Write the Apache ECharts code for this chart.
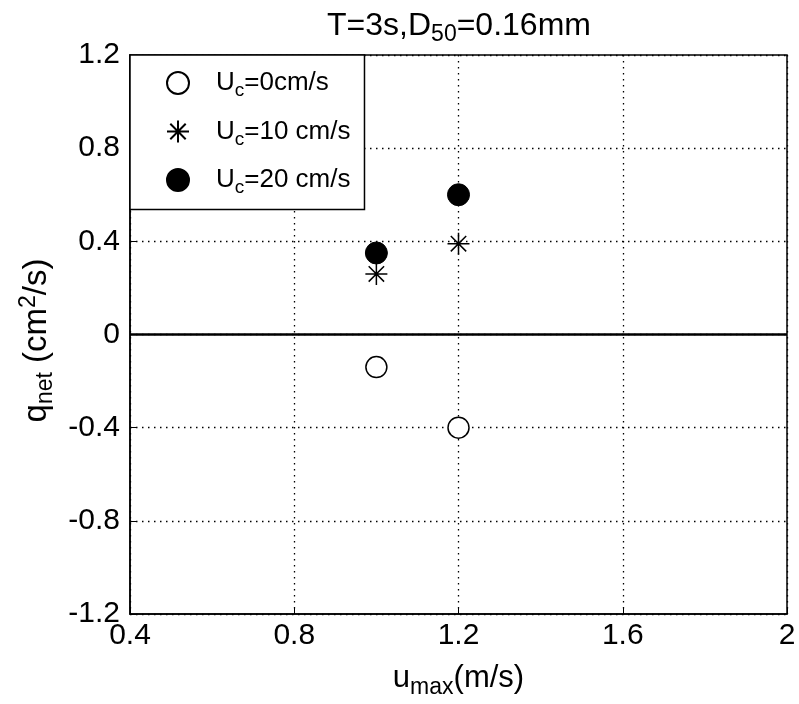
<!DOCTYPE html>
<html>
<head>
<meta charset="utf-8">
<script src="https://cdn.jsdelivr.net/npm/echarts@6/dist/echarts.min.js"></script>
<style>
html,body{margin:0;padding:0;background:#fff;}
#chart{width:799px;height:704px;}
</style>
</head>
<body>
<div id="chart"></div>
<script>
// ---- data ----
var seriesNames = ['Uc=0cm/s', 'Uc=10 cm/s', 'Uc=20 cm/s'];
var legendSuffix = ['=0cm/s', '=10 cm/s', '=20 cm/s'];
var uMax = [1.0, 1.2];
var qUc0 = [-0.14, -0.40];
var qUc10 = [0.26, 0.39];
var qUc20 = [0.35, 0.60];
var xTicks = [0.4, 0.8, 1.2, 1.6, 2];
var yTicks = [-1.2, -0.8, -0.4, 0, 0.4, 0.8, 1.2];

var FONT = 'Liberation Sans, Arial, sans-serif';
var starPath = 'path://M0,-10L0,10M-10,0L10,0M-7,-7L7,7M-7,7L7,-7';

function pairs(xs, ys) { return xs.map(function (x, i) { return [x, ys[i]]; }); }
function fmt(v) { return String(Math.round(v * 10) / 10); }

var chart = echarts.init(document.getElementById('chart'), null, {renderer: 'canvas'});

var option = {
  backgroundColor: '#fff',
  animation: false,
  textStyle: {fontFamily: FONT, color: '#000'},
  title: {
    text: '{n|T=3s,D}{s|50}{n|=0.16mm}',
    left: 454, textAlign: 'center', top: 1,
    textStyle: {
      fontWeight: 'normal',
      rich: {
        n: {fontFamily: FONT, fontSize: 32, fontWeight: 'normal', color: '#000'},
        s: {fontFamily: FONT, fontSize: 23, fontWeight: 'normal', color: '#000', padding: [17, 0, 0, 0]}
      }
    }
  },
  grid: {left: 130, top: 55, right: 12, bottom: 89, show: true, borderColor: '#000', borderWidth: 1.5, backgroundColor: '#fff'},
  legend: {
    orient: 'vertical',
    left: 130, top: 55,
    padding: [15, 14, 12, 36],
    itemGap: 18,
    itemWidth: 22, itemHeight: 22,
    backgroundColor: '#fff',
    borderColor: '#000', borderWidth: 1.5,
    borderRadius: 0,
    data: seriesNames.map(function (n) { return {name: n}; }),
    formatter: function (name) {
      var i = seriesNames.indexOf(name);
      return '{u|U}{s|c}{n|' + legendSuffix[i] + '}';
    },
    textStyle: {
      rich: {
        u: {fontFamily: FONT, fontSize: 26, color: '#000', padding: [0, 0, 0, 22]},
        n: {fontFamily: FONT, fontSize: 26, color: '#000'},
        s: {fontFamily: FONT, fontSize: 19, color: '#000', padding: [16, 0, 0, 0]}
      }
    }
  },
  xAxis: {
    type: 'value', min: 0.4, max: 2, interval: 0.4,
    axisLine: {show: true, onZero: false, lineStyle: {color: '#000', width: 1.5}},
    axisTick: {show: true, inside: true, length: 6, lineStyle: {color: '#000'}},
    axisLabel: {fontFamily: FONT, fontSize: 30, color: '#000', margin: 7, formatter: fmt},
    splitLine: {show: true, lineStyle: {color: '#000', type: [1.5, 4.5], width: 1.3}},
    name: '{n|u}{s|max}{n|(m/s)}',
    nameLocation: 'middle', nameGap: 44,
    nameTextStyle: {
      rich: {
        n: {fontFamily: FONT, fontSize: 31, color: '#000'},
        s: {fontFamily: FONT, fontSize: 23, color: '#000', padding: [18, 0, 0, 0]}
      }
    }
  },
  yAxis: {
    type: 'value', min: -1.2, max: 1.2, interval: 0.4,
    axisLine: {show: true, onZero: false, lineStyle: {color: '#000', width: 1.5}},
    axisTick: {show: true, inside: true, length: 6, lineStyle: {color: '#000'}},
    axisLabel: {fontFamily: FONT, fontSize: 30, color: '#000', margin: 10, formatter: fmt},
    splitLine: {show: true, lineStyle: {color: '#000', type: [1.5, 4.5], width: 1.3}},
    name: '{n|q}{s|net}{n| (cm}{p|2}{e|/s)}',
    nameLocation: 'middle', nameRotate: 90, nameGap: 72,
    nameTextStyle: {
      rich: {
        n: {fontFamily: FONT, fontSize: 33, color: '#000'},
        e: {fontFamily: FONT, fontSize: 33, color: '#000', padding: [0, 12, 0, 0]},
        s: {fontFamily: FONT, fontSize: 23, color: '#000', padding: [18, 0, 0, 0]},
        p: {fontFamily: FONT, fontSize: 23, color: '#000', padding: [0, 0, 16, 0]}
      }
    }
  },
  series: [
    {
      name: seriesNames[0], type: 'scatter', data: pairs(uMax, qUc0),
      symbol: 'circle', symbolSize: 21,
      itemStyle: {color: '#fff', borderColor: '#000', borderWidth: 1.5, opacity: 1},
      markLine: {
        silent: true, symbol: 'none', label: {show: false},
        lineStyle: {color: '#000', type: 'solid', width: 2.5},
        data: [{yAxis: 0}]
      },
      z: 3
    },
    {
      name: seriesNames[1], type: 'scatter', data: pairs(uMax, qUc10),
      symbol: starPath, symbolSize: 22,
      itemStyle: {color: 'rgba(0,0,0,0)', borderColor: '#000', borderWidth: 1.5, opacity: 1},
      z: 4
    },
    {
      name: seriesNames[2], type: 'scatter', data: pairs(uMax, qUc20),
      symbol: 'circle', symbolSize: 22,
      itemStyle: {color: '#000', borderColor: '#000', borderWidth: 1, opacity: 1},
      z: 5
    }
  ]
};
chart.setOption(option);
</script>
</body>
</html>
